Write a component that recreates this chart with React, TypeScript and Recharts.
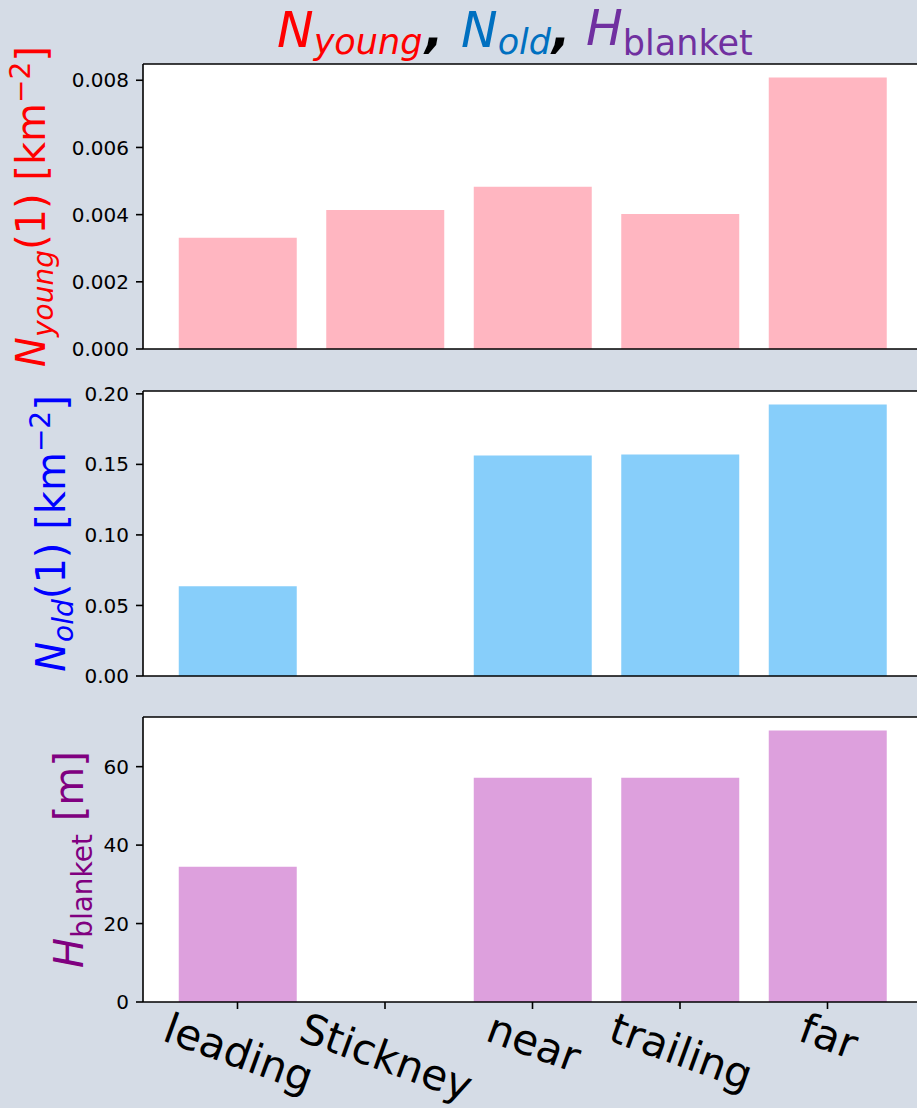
import React from "react";
import { BarChart, Bar, XAxis, YAxis, Label, ReferenceLine, CartesianGrid } from "recharts";

const categories = ["leading", "Stickney", "near", "trailing", "far"];
const nYoung = [0.00331, 0.00414, 0.00483, 0.00402, 0.00808];
const nOld = [0.0637, 0, 0.1563, 0.157, 0.1924];
const hBlanket = [34.5, 0, 57.2, 57.2, 69.2];
const youngTicks = [0, 0.002, 0.004, 0.006, 0.008];
const oldTicks = [0, 0.05, 0.1, 0.15, 0.2];
const blanketTicks = [0, 20, 40, 60];

const FONT = "DejaVu Sans";
const BG = "#d5dce6";
const PLOT_W = 779;
const Y_W = 143;
const CHART_W = Y_W + PLOT_W + 10;
const PAD = 20.75;
const AX = { stroke: "#000", strokeWidth: 1.6 };

let ctx: any = null;
function measure(s: string, font: string) {
  try {
    if (!ctx) ctx = document.createElement("canvas").getContext("2d");
    ctx.font = font;
    return ctx.measureText(s).width;
  } catch (e) {
    return s.length * 0.6 * 42;
  }
}

const XTick = (props: any) => {
  const { x, y, payload } = props;
  const fs = 42;
  const th = (20 * Math.PI) / 180;
  const w = measure(String(payload.value), `${fs}px '${FONT}'`);
  const h = fs * 1.0;
  const H = w * Math.sin(th) + h * Math.cos(th);
  const cy = y + H / 2;
  return (
    <g transform={`translate(${x},${cy}) rotate(20)`}>
      <text x={0} y={0.26 * fs} textAnchor="middle" fontFamily={FONT} fontSize={fs} fill="#000">
        {payload.value}
      </text>
    </g>
  );
};

const makeLabel = (kind: string, bx: number) => (p: any) => {
  const vb = p.viewBox || { y: 0, height: 0 };
  const cy = vb.y + vb.height / 2;
  const common = {
    transform: `translate(${bx},${cy}) rotate(-90)`,
    textAnchor: "middle" as const,
    fontFamily: FONT,
    fontSize: 40,
  };
  if (kind === "young")
    return (
      <text {...common} fill="#ff0000">
        <tspan fontStyle="italic">N</tspan>
        <tspan fontStyle="italic" fontSize={28} dy={8}>young</tspan>
        <tspan dy={-8}>(1) [km</tspan>
        <tspan fontSize={28} dy={-15}>−2</tspan>
        <tspan dy={15}>]</tspan>
      </text>
    );
  if (kind === "old")
    return (
      <text {...common} fill="#0000ff">
        <tspan fontStyle="italic">N</tspan>
        <tspan fontStyle="italic" fontSize={28} dy={8}>old</tspan>
        <tspan dy={-8}>(1) [km</tspan>
        <tspan fontSize={28} dy={-15}>−2</tspan>
        <tspan dy={15}>]</tspan>
      </text>
    );
  return (
    <text {...common} fill="#800080">
      <tspan fontStyle="italic">H</tspan>
      <tspan fontSize={28} dy={9}>blanket</tspan>
      <tspan dy={-9}> [m]</tspan>
    </text>
  );
};

type PanelProps = {
  values: number[];
  color: string;
  ticks: number[];
  decimals: number;
  kind: string;
  labelX: number;
  top: number;
  marginTop: number;
  xHeight: number;
  showLabels: boolean;
};

const Panel = (pp: PanelProps) => {
  const data = categories.map((c, i) => ({ cat: c, v: pp.values[i] }));
  const max = Math.max(...pp.values) * 1.05;
  const height = pp.marginTop + 285 + pp.xHeight;
  return (
    <div style={{ position: "absolute", left: 0, top: pp.top }}>
      <BarChart
        width={CHART_W}
        height={height}
        data={data}
        margin={{ top: pp.marginTop, right: 10, bottom: 0, left: 0 }}
        style={{ overflow: "visible" }}
      >
        <CartesianGrid fill="#ffffff" horizontal={false} vertical={false} stroke="none" />
        <XAxis
          dataKey="cat"
          type="category"
          padding={{ left: PAD, right: PAD }}
          height={pp.xHeight}
          axisLine={AX}
          tickLine={AX}
          tickSize={7}
          tickMargin={1}
          interval={0}
          tick={pp.showLabels ? <XTick /> : false}
        />
        <YAxis
          width={Y_W}
          type="number"
          domain={[0, max]}
          allowDataOverflow
          ticks={pp.ticks}
          interval={0}
          tickFormatter={(v: number) => v.toFixed(pp.decimals)}
          axisLine={AX}
          tickLine={AX}
          tickSize={7}
          tickMargin={7}
          tick={{ fill: "#000", fontSize: 20, fontFamily: FONT }}
        >
          <Label content={makeLabel(pp.kind, pp.labelX)} />
        </YAxis>
        <Bar dataKey="v" fill={pp.color} barSize={118} isAnimationActive={false} />
        <ReferenceLine y={max} stroke="#000" strokeWidth={1.6} ifOverflow="visible" />
      </BarChart>
    </div>
  );
};

const Title = () => (
  <svg
    width={917}
    height={75}
    style={{ position: "absolute", left: 0, top: 0, pointerEvents: "none" }}
  >
    <text x={277} y={47} fontFamily={FONT} fontSize={49} fontStyle="italic" fill="#ff0000">
      N<tspan fontSize={35} dy={7}>young</tspan>
    </text>
    <text x={425} y={47} fontFamily={FONT} fontSize={49} fontStyle="italic" fontWeight="bold" fill="#000">,</text>
    <text x={461} y={47} fontFamily={FONT} fontSize={49} fontStyle="italic" fill="#0070c0">
      N<tspan fontSize={35} dy={7}>old</tspan>
    </text>
    <text x={552} y={47} fontFamily={FONT} fontSize={49} fontStyle="italic" fontWeight="bold" fill="#000">,</text>
    <text x={586} y={45} fontFamily={FONT} fontSize={49} fill="#7030a0">
      <tspan fontStyle="italic">H</tspan>
      <tspan fontSize={35} dy={10}>blanket</tspan>
    </text>
  </svg>
);

export default function App() {
  return (
    <div
      style={{
        position: "absolute",
        left: 0,
        top: 0,
        width: 917,
        height: 1108,
        overflow: "hidden",
        background: BG,
        fontFamily: FONT,
      }}
    >
      <Panel values={nYoung} color="#ffb6c1" ticks={youngTicks} decimals={3} kind="young" labelX={45} top={0} marginTop={64} xHeight={30} showLabels={false} />
      <Panel values={nOld} color="#87cefa" ticks={oldTicks} decimals={2} kind="old" labelX={65} top={380} marginTop={11} xHeight={18} showLabels={false} />
      <Panel values={hBlanket} color="#dda0dd" ticks={blanketTicks} decimals={0} kind="blanket" labelX={83} top={700} marginTop={17} xHeight={106} showLabels={true} />
      <Title />
    </div>
  );
}
